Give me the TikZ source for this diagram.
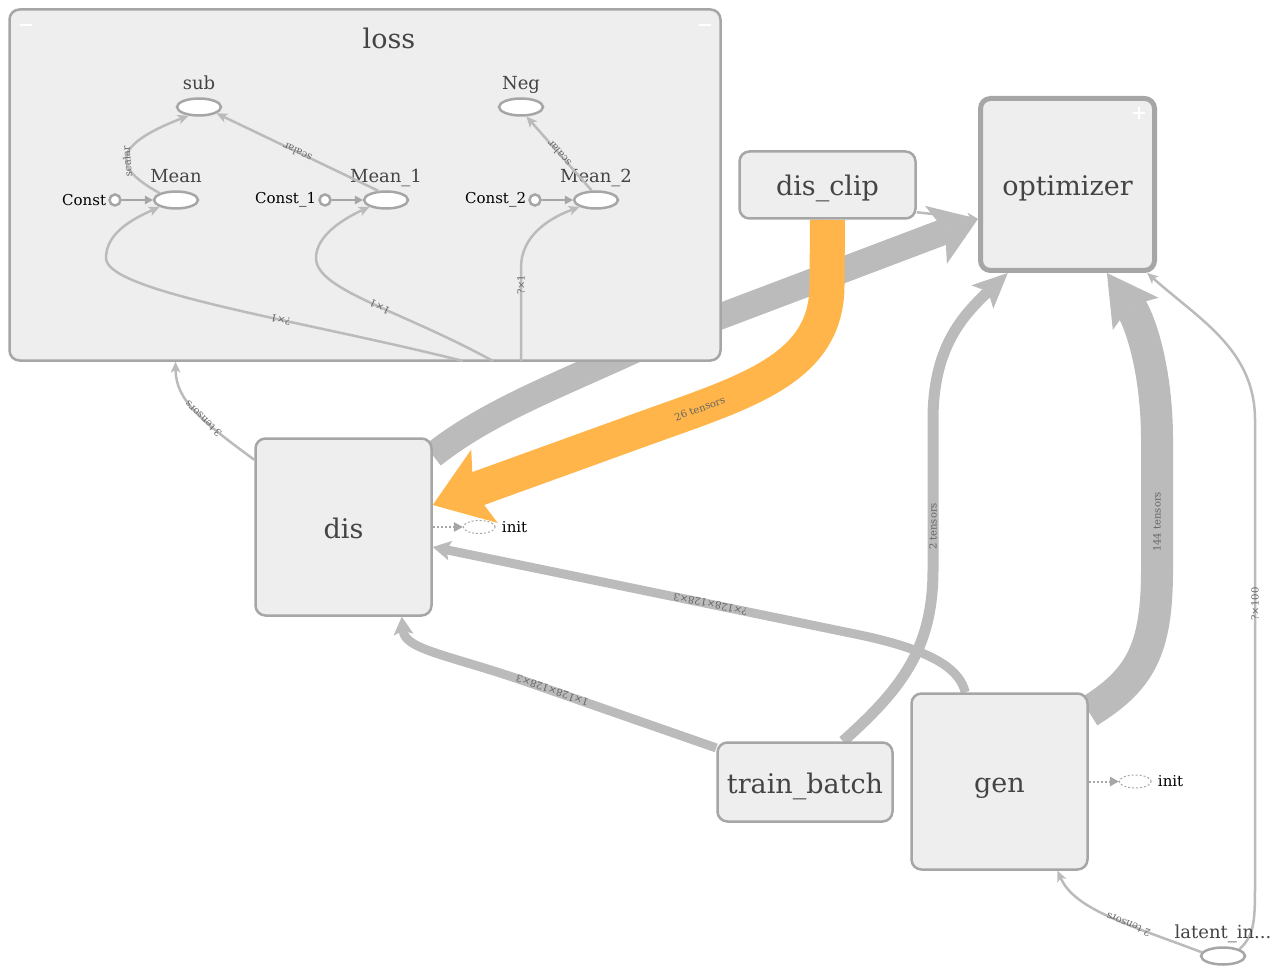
\documentclass[tikz,border=0pt]{standalone}
\usepackage{fontspec}
\setmainfont{DejaVu Serif}
\usepackage{xcolor}
\usepackage{tikz}
\usetikzlibrary{shapes.geometric, arrows.meta, positioning, backgrounds}

\definecolor{nodeline}{HTML}{A6A6A6}
\definecolor{nodefill}{HTML}{EEEEEE}
\definecolor{edgegray}{HTML}{BBBBBB}
\definecolor{refedge}{HTML}{FFB54A}
\definecolor{labeltext}{HTML}{444444}
\definecolor{edgetext}{HTML}{666666}

\begin{document}
\begin{tikzpicture}[x=1pt, y=-1pt,
  group/.style={rectangle, rounded corners=10pt, draw=nodeline, fill=nodefill, line width=2.5pt, text=labeltext, font=\fontsize{27}{32}\selectfont, text height=24pt, text depth=2pt},
  op/.style={ellipse, draw=nodeline, fill=white, line width=2.5pt, minimum width=44pt, minimum height=17pt, inner sep=0pt},
  initop/.style={ellipse, draw=nodeline, line width=1pt, dash pattern=on 2pt off 2pt, minimum width=32pt, minimum height=13pt, inner sep=0pt},
  const/.style={circle, draw=nodeline, fill=white, line width=2.5pt, minimum size=11pt, inner sep=0pt},
  oplabel/.style={text=labeltext, font=\fontsize{18}{20}\selectfont, inner sep=2pt, text depth=0pt, yshift=6pt},
  constlabel/.style={text=black, font=\fontsize{15}{17}\selectfont, inner sep=2pt},
  initlabel/.style={constlabel, xshift=4pt},
  flow/.style={draw=edgegray, line width=2.5pt, -{Stealth[length=11pt, width=10pt, inset=3pt, line width=0pt]}},
  constflow/.style={draw=nodeline, line width=2.5pt, -{Triangle[length=8pt, width=9pt, line width=0pt]}},
  initflow/.style={draw=nodeline, line width=2pt, dash pattern=on 2pt off 2pt, -{Triangle[length=9pt, width=10pt, line width=0pt]}},
  elabel/.style={sloped, allow upside down, text=edgetext, font=\fontsize{10}{11}\selectfont, inner sep=0pt}
]
  \path[use as bounding box] (0,0) rectangle (1282,976);

  % loss group
  \node[group, minimum width=711pt, minimum height=351pt] (loss) at (365,185) {};
  \node[text=labeltext, font=\fontsize{27}{32}\selectfont] (losstitle) at (389,38) {loss};
  \draw[white, line width=2.5pt] (20,25) -- (32,25);
  \draw[white, line width=2.5pt] (699,25) -- (711,25);

  \node[op, label={[oplabel]above:sub}] (sub) at (199,107) {};
  \node[op, label={[oplabel]above:Neg}] (neg) at (521,107) {};
  \node[op, label={[oplabel]above:Mean}] (mean) at (176,200) {};
  \node[op, label={[oplabel]above:Mean\_1}] (mean1) at (386,200) {};
  \node[op, label={[oplabel]above:Mean\_2}] (mean2) at (596,200) {};
  \node[const, left=31pt of mean, label={[constlabel]left:Const}] (c0) {};
  \node[const, left=31pt of mean1, label={[constlabel]left:Const\_1}] (c1) {};
  \node[const, left=31pt of mean2, label={[constlabel]left:Const\_2}] (c2) {};
  \coordinate (lossa) at (463,361);
  \coordinate (lossb) at (493,361);
  \coordinate (lossc) at (521,361);

  \draw[constflow] (c0) -- (mean);
  \draw[constflow] (c1) -- (mean1);
  \draw[constflow] (c2) -- (mean2);
  \draw[flow] (mean.north west) .. controls (118,170) and (105,148) .. (sub.220) node[elabel, pos=.45] {scalar};
  \draw[flow] (mean1.130) -- (sub.-20) node[elabel, pos=.5] {scalar};
  \draw[flow] (mean2.115) -- (neg.-60) node[elabel, pos=.5] {scalar};
  \draw[flow] (lossa) .. controls (300,320) and (106,292) .. (106,258) node[elabel, pos=.37] {?×1}
    .. controls (106,232) and (135,218) .. (mean.south west);
  \draw[flow] (lossb) .. controls (400,310) and (316,290) .. (316,258) node[elabel, pos=.45] {1×1}
    .. controls (316,235) and (345,218) .. (mean1.south west);
  \draw[flow] (lossc) -- (521,268) node[elabel, pos=.82] {?×1}
    .. controls (521,235) and (550,218) .. (mean2.south west);

  % top level nodes
  \node[group, minimum width=176pt, minimum height=177pt] (dis) at (343.5,527) {dis};
  \node[group, minimum width=176pt, minimum height=67pt] (disclip) at (827.5,185) {dis\_clip};
  \node[group, line width=5pt, minimum width=174pt, minimum height=172pt] (optimizer) at (1067.5,184.5) {optimizer};
  \draw[white, line width=2.5pt] (1133,113) -- (1145,113) (1139,107) -- (1139,119);
  \node[group, minimum width=175pt, minimum height=79pt] (trainbatch) at (805,782) {train\_batch};
  \node[group, minimum width=176pt, minimum height=176pt] (gen) at (999.5,781.5) {gen};
  \node[op, label={[oplabel]above:latent\_in...}] (latent) at (1223,956) {};
  \node[initop, right=30pt of dis, label={[initlabel]right:init}] (disinit) {};
  \node[initop, right=30pt of gen, label={[initlabel]right:init}] (geninit) {};

  \draw[initflow] (dis) -- (disinit);
  \draw[initflow] (gen) -- (geninit);

  % edges between groups, under the boxes
  \begin{pgfonlayer}{background}
    \draw[flow, line width=26pt, -{Stealth[length=45pt, width=62pt, inset=10pt, line width=0pt]}]
      ([yshift=-18pt]dis.north east) .. controls (490,410) and (560,385) .. (650,343) -- (optimizer.201);
    \draw[flow] (disclip.-17) -- (optimizer.201);
    \draw[draw=refedge, line width=35pt, -{Stealth[length=55pt, width=78pt, inset=12pt, line width=0pt]}]
      (disclip.south) -- (827,285) .. controls (827,370) and (745,392) .. (640,430)
      node[elabel, allow upside down=false, pos=.8] {26 tensors}
      -- ([yshift=22pt]dis.east);
    \draw[flow] (dis.143) .. controls (200,420) and (176,400) .. (loss.223) node[elabel, pos=.4] {3 tensors};
    \draw[flow, line width=9pt, -{Stealth[length=18pt, width=20pt, inset=4pt, line width=0pt]}]
      (gen.111) .. controls (960,672) and (940,652) .. (860,635)
      -- ([yshift=-20pt]dis.east) node[elabel, pos=.35] {?×128×128×3};
    \draw[flow, line width=9pt, -{Stealth[length=18pt, width=20pt, inset=4pt, line width=0pt]}]
      (trainbatch.159) -- (530,683) node[elabel, pos=.88] {1×128×128×3}
      .. controls (450,655) and (405,650) .. (dis.-57);
    \draw[flow, line width=11pt, -{Stealth[length=35pt, width=32pt, inset=8pt, line width=0pt]}]
      (trainbatch.47) .. controls (900,690) and (933,650) .. (933,570)
      -- (933,420) node[elabel, pos=.29] {2 tensors}
      .. controls (933,350) and (960,318) .. (optimizer.236);
    \draw[flow, line width=32pt, -{Stealth[length=50pt, width=56pt, inset=10pt, line width=0pt]}]
      (gen.38) .. controls (1140,680) and (1157,650) .. (1157,570)
      -- (1157,440) node[elabel, pos=.37] {144 tensors}
      .. controls (1157,370) and (1140,320) .. (optimizer.-66);
    \draw[flow] (latent.north east) .. controls (1255,935) and (1255,920) .. (1255,880)
      -- (1255,420) node[elabel, pos=.6] {?×100}
      .. controls (1255,350) and (1200,320) .. (optimizer.-48);
    \draw[flow] (latent.170) .. controls (1130,925) and (1075,910) .. (gen.-57) node[elabel, pos=.38] {2 tensors};
  \end{pgfonlayer}
\end{tikzpicture}
\end{document}
